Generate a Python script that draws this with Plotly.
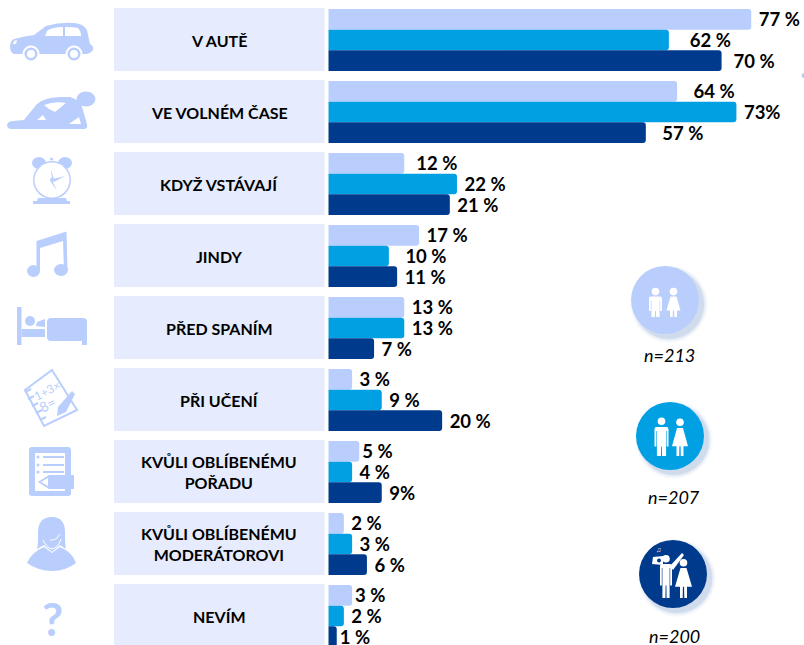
import re
import plotly.graph_objects as go

W, H = 804, 645
categories = ["V AUTĚ", "VE VOLNÉM ČASE", "KDYŽ VSTÁVAJÍ", "JINDY", "PŘED SPANÍM", "PŘI UČENÍ",
              "KVŮLI OBLÍBENÉMU<br>POŘADU", "KVŮLI OBLÍBENÉMU<br>MODERÁTOROVI", "NEVÍM"]
# bar lengths as drawn in the picture (they differ slightly from the printed labels)
group_213 = [77, 63.5, 13.8, 16.5, 13.8, 4.3, 5.6, 2.8, 4.3]
group_207 = [62, 74.3, 23.4, 11, 13.8, 9.7, 4.3, 4.3, 2.8]
group_200 = [71.6, 57.8, 22.1, 12.5, 8.3, 20.7, 9.7, 7, 1.5]
labels_213 = ["77 %", "64 %", "12 %", "17 %", "13 %", "3 %", "5 %", "2 %", "3 %"]
labels_207 = ["62 %", "73%", "22 %", "10 %", "13 %", "9 %", "4 %", "3 %", "2 %"]
labels_200 = ["70 %", "57 %", "21 %", "11 %", "7 %", "20 %", "9%", "6 %", "1 %"]
sample_labels = ["n=213", "n=207", "n=200"]

# spacing of each bar label from its bar, in non-breaking spaces (style, not data)
pad_213 = [1, 3, 2, 1, 1, 1, 0, 1, 0]
pad_207 = [4, 1, 1, 3, 1, 1, 1, 1, 1]
pad_200 = [2, 3, 1, 1, 1, 1, 1, 1, 0]

LIGHT, MID, DARK, PANEL = "#B9CEFD", "#00A0E3", "#003A8C", "#E6ECFD"
FONT = "Lato"
PX_PER_UNIT = 5.49
X0, PITCH, Y0 = 328.5, 72.0, 40.0

fig = go.Figure()
for name, vals, labs, pads, col in [("n=213", group_213, labels_213, pad_213, LIGHT),
                                    ("n=207", group_207, labels_207, pad_207, MID),
                                    ("n=200", group_200, labels_200, pad_200, DARK)]:
    fig.add_bar(name=name, y=categories, x=vals, orientation="h", marker=dict(color=col, line=dict(width=0)),
                text=["\u00a0" * p + t for p, t in zip(pads, labs)], textposition="outside", cliponaxis=False,
                constraintext="none", textangle=0,
                textfont=dict(family=FONT, size=18.5, color="#000000", weight="bold"))

shapes, annots = [], []


def fx(x):
    return x / W


def fy(y):
    return 1 - y / H


def path(d, fill=LIGHT, line=None, lw=0, opacity=1):
    def conv(m):
        return f"{float(m.group(1)) / W:.5f},{1 - float(m.group(2)) / H:.5f}"
    d2 = re.sub(r"(-?[\d.]+),(-?[\d.]+)", conv, d)
    shapes.append(dict(type="path", path=d2, xref="paper", yref="paper", fillcolor=fill, opacity=opacity,
                       line=dict(color=line or fill, width=lw)))


def ell(cx, cy, rx, ry=None, fill=LIGHT, line=None, lw=0, opacity=1):
    ry = rx if ry is None else ry
    shapes.append(dict(type="circle", xref="paper", yref="paper", x0=fx(cx - rx), x1=fx(cx + rx),
                       y0=fy(cy + ry), y1=fy(cy - ry), fillcolor=fill, opacity=opacity,
                       line=dict(color=line or fill, width=lw)))


def rect(x0, y0, x1, y1, fill=LIGHT, layer="above"):
    shapes.append(dict(type="rect", xref="paper", yref="paper", x0=fx(x0), x1=fx(x1), y0=fy(y1), y1=fy(y0),
                       fillcolor=fill, line=dict(width=0), layer=layer))


def note(x, y, text, size, color="#000000", bold=False, italic=False, angle=0, anchor="center"):
    annots.append(dict(x=fx(x), y=fy(y), xref="paper", yref="paper", text=text, showarrow=False, textangle=angle,
                       xanchor=anchor, yanchor="middle",
                       font=dict(family=FONT, size=size, color=color, weight="bold" if bold else "normal",
                                 style="italic" if italic else "normal")))


# category panels
for i, cat in enumerate(categories):
    cy = Y0 + i * PITCH
    rect(114, cy - 32, 324.5, cy + 31, PANEL, layer="below")
    annots.append(dict(x=fx(219), y=cat, xref="paper", yref="y", text=cat, showarrow=False, xanchor="center",
                       font=dict(family=FONT, size=16, color="#000000", weight="bold")))

# car
path("M10,47 Q10,41 14,39 Q25,36 34,35 L46,26 Q60,22 74,23 Q84,24 87,30 L90,44 Q94,46 93,50 Q90,54 86,54 "
     "L14,54 Q10,52 10,47 Z")
path("M45,36 L47,31 Q52,27 63,27 L63,36 Z", "#ffffff")
path("M65,27 Q74,27 78,28 Q81,31 81,36 L65,36 Z", "#ffffff")
path("M14,41 L17,40 L16,44 L13,44 Z", "#ffffff")
for cx in (31, 74):
    ell(cx, 54, 8.5, fill="#ffffff")
    ell(cx, 54, 6.5, fill=LIGHT)
    ell(cx, 54, 4, fill="#ffffff")

# person lying
ell(86, 99, 9.5, 7.5)
path("M7,125 Q8,121 13,121 L24,120 L37,104 Q43,98 60,97 L70,97 Q80,100 82,107 L87,124 Q88,129 84,129 L12,129 "
     "Q7,129 7,125 Z")
path("M37,120 L43,115 L46,120 Z", "#ffffff")
path("M44,105 Q54,101 66,103 L55,112 Q49,110 44,105 Z", "#ffffff")
path("M69,124 L79,117 L81,124 Z", "#ffffff")

# alarm clock
ell(39, 163, 7, 6)
ell(65, 163, 7, 6)
ell(51.5, 159, 1.5)
ell(52, 180, 19)
ell(52, 180, 17.5, fill="#ffffff")
path("M51,169 L52,180 L54,180 Z M53,179 L65,176 L54,182 Z M51,182 L57,191 L52,180 Z")
ell(52, 180, 2, fill=LIGHT)
path("M38,198 L66,198 L67,201 L70,201 L70,204 L33,204 L33,201 L37,201 Z")

# music note
ell(33.5, 271, 6.5, 6)
ell(61, 270, 7, 6)
path("M36.5,271 L36.5,241 L66.5,231.5 L67.5,270 L64,270 L63,241 L40,248 L40,271 Z")

# bed
rect(17, 307, 21.5, 345)
rect(21.5, 329, 45, 337)
ell(30, 321, 5)
path("M36,326 L37,322 L45,319 L45,327 Z")
path("M47,322 Q47,318 51,318 L83,318 Q87,318 87,322 L87,345 L82,345 L82,341 L51,341 Q47,341 47,337 Z")

# notepad
path("M52,370 L77,410 L44,426 L25,390 Z", "#ffffff", LIGHT, 2)
for x, y in [(25, 392), (28, 399), (32, 406), (36, 413), (40, 420)]:
    path(f"M{x},{y} L{x + 6},{y - 3}", "#ffffff", LIGHT, 2)
note(47, 390, "1+3×", 12, LIGHT, angle=-28)
note(47, 404, "8=", 14, LIGHT, angle=-28)
path("M72,391 L75,394 L66,412 L57,416 L58,407 Z")

# document
path("M32,447 L68,447 Q71,447 71,450 L71,493 Q71,496 68,496 L32,496 Q29,496 29,493 L29,450 Q29,447 32,447 Z "
     "M35,453 L35,491 L65,491 L65,453 Z")
for y in (457, 465, 472):
    ell(38, y, 1.5)
    rect(43, y - 1, 64, y + 1)
path("M38,482 L49,475 L74,475 L74,489 L49,489 Z")
path("M41,482 L48,478 L48,486 Z", "#ffffff")

# moderator
path("M27,563 Q32,552 44,547 L52,553 L60,547 Q72,552 76,563 Q66,571 52,571 Q38,571 27,563 Z")
path("M52,517 Q37,517 38,535 Q38,546 37,549 L44,545 L52,552 L60,545 L66,549 Q65,545 65,535 Q66,517 52,517 Z")
path("M43,540 Q47,548 52,549 Q58,548 61,539", "rgba(0,0,0,0)", "#ffffff", 1)
path("M50,540 Q56,541 60,534", "rgba(0,0,0,0)", "#ffffff", 1)

# question mark
note(52, 618, "?", 46, LIGHT, bold=True)

# tiny mark at the right edge
ell(804, 75.5, 2.5)

# badges
badges = [(665, 300, LIGHT, (669, 355)), (670, 436, MID, (674, 497)), (673, 574, DARK, (674, 636))]
for (cx, cy, col, (lx, ly)), lab in zip(badges, sample_labels):
    for r, o in [(39, 0.04), (37.5, 0.07), (36, 0.10), (35, 0.14)]:
        ell(cx + 4, cy + 4, r, fill="#6D8FC4", opacity=o)
    ell(cx, cy, 34, fill=col)
    note(lx, ly, lab, 18, "#000000", italic=True)


def man(x, top, h, k=1.0, w=6.5):
    c = "#ffffff"
    ell(x, top + 3.8 * k, 3.8, fill=c)
    b = top + 9 * k
    e = top + h
    a = b + 0.5 * h
    path(f"M{x - w},{b + 2} Q{x - w},{b} {x - w + 2},{b} L{x + w - 2},{b} Q{x + w},{b} {x + w},{b + 2} "
         f"L{x + w},{a} L{x + w - 1.8},{a} L{x + w - 1.8},{b + 4} L{x + w - 2.4},{b + 4} L{x + w - 2.4},{e} L{x + 0.6},{e} "
         f"L{x + 0.4},{a} L{x - 0.4},{a} L{x - 0.6},{e} L{x - w + 2.4},{e} L{x - w + 2.4},{b + 4} L{x - w + 1.8},{b + 4} "
         f"L{x - w + 1.8},{a} L{x - w},{a} Z", c)


def woman(x, top, h, k=1.0, w=7.5):
    c = "#ffffff"
    ell(x, top + 3.8 * k, 3.8, fill=c)
    b = top + 9 * k
    e = top + h
    s = b + 0.48 * h
    path(f"M{x - 3},{b} L{x + 3},{b} L{x + w},{s} L{x + 3.5},{s} L{x + 3.5},{e} L{x + 0.8},{e} L{x + 0.6},{s} "
         f"L{x - 0.6},{s} L{x - 0.8},{e} L{x - 3.5},{e} L{x - 3.5},{s} L{x - w},{s} Z", c)


man(655.5, 288, 29, 0.95, 6.5)
woman(673.5, 288, 29, 0.95, 7)
man(661.5, 417, 39, 1.1, 7)
woman(680, 418, 38, 1.1, 8)
# teen with radio
man(666, 555, 43, 1.0, 6)
path("M670,566 L682,553 L684,555 L673,570 Z", "#ffffff")
woman(683.5, 559, 39, 1.0, 8.5)
path("M653,557 L663,556 L663,565 L652,564 Z", "#ffffff")
ell(659, 560.5, 2, fill=DARK)
note(658, 549, "♫", 7, "#ffffff")

fig.update_layout(
    width=W, height=H, margin=dict(l=0, r=0, t=0, b=0), paper_bgcolor="#ffffff", plot_bgcolor="rgba(0,0,0,0)",
    barmode="group", bargap=0.14, bargroupgap=0, barcornerradius=3, showlegend=False,
    xaxis=dict(range=[-X0 / PX_PER_UNIT, (W - X0) / PX_PER_UNIT], visible=False, fixedrange=True),
    yaxis=dict(type="category", categoryorder="array", categoryarray=categories,
               range=[(H - Y0) / PITCH, -Y0 / PITCH], visible=False, fixedrange=True),
    shapes=shapes, annotations=annots,
)
fig.write_html("out.html", config=dict(displayModeBar=False),
               post_script="document.body.style.margin='0';document.documentElement.style.overflow='hidden';")
